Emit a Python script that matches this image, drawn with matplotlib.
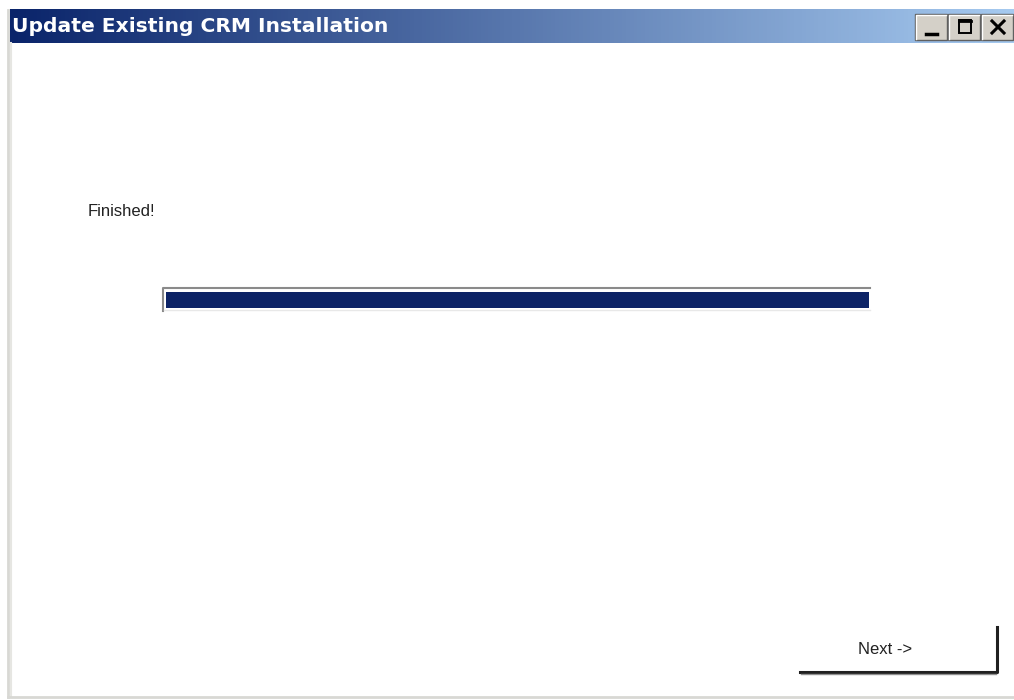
import numpy as np
import matplotlib.pyplot as plt
from matplotlib.patches import Rectangle

# ---------------- Dialog content ----------------
title_text = "Update Existing CRM Installation"
status_text = "Finished!"
button_text = "Next ->"
progress_done = [100]      # percent complete
progress_max = 100
# -----------------------------------------------

W, H = 1014, 700
fig = plt.figure(figsize=(W / 100, H / 100), dpi=100)
ax = fig.add_axes([0, 0, 1, 1])
ax.set_xlim(0, W)
ax.set_ylim(H, 0)
ax.axis("off")
fig.patch.set_facecolor("white")

# window frame (left + bottom grey edges)
ax.plot([8, 8], [10, 697], color="#d8d8d4", lw=2)
ax.plot([11, 11], [43, 697], color="#e6e6e2", lw=1.5)
ax.plot([8, W], [697, 697], color="#d8d8d4", lw=2)

# title bar gradient
grad = np.linspace(0, 1, 256).reshape(1, -1)
cmap = plt.matplotlib.colors.LinearSegmentedColormap.from_list(
    "tb", ["#0a246a", "#a6caf0"])
ax.imshow(grad, cmap=cmap, aspect="auto", extent=[10, W, 43, 9], zorder=1)
ax.text(12, 27, title_text, color="white", fontsize=14.6, fontweight="bold",
        family="DejaVu Sans", va="center", ha="left", zorder=3)

# min / max / close buttons
for i in range(3):
    x0 = 915 + i * 33
    ax.add_patch(Rectangle((x0, 14), 32, 26, facecolor="#d4d0c8",
                           edgecolor="#606060", lw=1, zorder=2))
    ax.plot([x0 + 1, x0 + 1, x0 + 31], [39, 15, 15], color="white", lw=1, zorder=3)
ax.plot([926, 937], [34, 34], color="black", lw=2.5, zorder=4)
ax.add_patch(Rectangle((959, 20), 12, 13, facecolor="none",
                       edgecolor="black", lw=1.4, zorder=4))
ax.plot([959, 971], [21, 21], color="black", lw=2, zorder=4)
ax.plot([992, 1004], [21, 33], color="black", lw=2.2, zorder=4)
ax.plot([992, 1004], [33, 21], color="black", lw=2.2, zorder=4)

# status label
ax.text(88, 211, status_text, fontsize=12, color="#222222",
        family="Liberation Sans", va="center", ha="left")

# progress bar
bar_x0, bar_x1 = 166, 869
ax.plot([163, 163, 870], [311, 288, 288], color="#8a8a8a", lw=1.5)
ax.plot([164, 870], [310, 310], color="#e8e8e8", lw=1)
frac = np.array(progress_done) / progress_max
ax.barh([299.5], frac * (bar_x1 - bar_x0), left=bar_x0, height=16,
        color="#0c2366", zorder=2)

# Next button
ax.plot([800, 997, 997], [672, 672, 627], color="#202020", lw=2.2)
ax.plot([801, 996], [674, 674], color="#909090", lw=1)
ax.text(885, 650, button_text, fontsize=12, color="#222222",
        family="Liberation Sans", va="center", ha="center")

plt.savefig("out.png", dpi=100, facecolor="white")
plt.close()
